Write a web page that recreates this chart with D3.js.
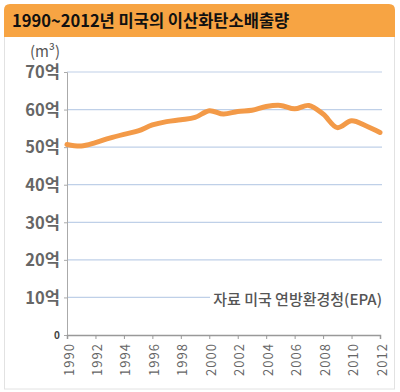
<!DOCTYPE html>
<html>
<head>
<meta charset="utf-8">
<script src="https://cdn.jsdelivr.net/npm/d3@7"></script>
<style>
  body { margin: 0; background: #fff; }
  svg { display: block; }
  text { font-family: 'Noto Sans CJK KR', 'Noto Sans', sans-serif; }
</style>
</head>
<body>
<div id="chart"></div>
<script>
// values in 억 m³
var years = d3.range(1990, 2013)
var emissions = [50.7, 50.3, 51.2, 52.4, 53.4, 54.3, 55.9, 56.8, 57.3, 57.9, 59.7, 58.8,
  59.5, 59.8, 60.8, 61.1, 60.2, 61.1, 58.8, 55.2, 57.0, 55.7, 53.9]
var yTicks = [0, 10, 20, 30, 40, 50, 60, 70]
var xTicks = d3.range(1990, 2013, 2)

var title = '1990~2012년 미국의 이산화탄소배출량'
var unitLabel = '(m³)'
var source = '자료 미국 연방환경청(EPA)'

var width = 400
var height = 392
var margin = {top: 72, right: 20, bottom: 57, left: 67}

var svg = d3
  .select('#chart')
  .append('svg')
  .attr('width', width)
  .attr('height', height)

// frame
svg.append('rect')
  .attr('x', 4.5).attr('y', 30).attr('width', 390).attr('height', 359)
  .attr('fill', '#fff').attr('stroke', '#e2e2e2')

svg.append('path')
  .attr('d', 'M4,37 V10 Q4,4 10,4 H389 Q395,4 395,10 V37 Z')
  .attr('fill', '#f7a443')

svg.append('text')
  .attr('x', 12).attr('y', 27)
  .attr('font-size', 16.5).attr('font-weight', 'bold')
  .attr('fill', '#111')
  .text(title)

var x = d3.scalePoint()
  .domain(years)
  .range([margin.left, width - margin.right])

var y = d3.scaleLinear()
  .domain([0, 70])
  .range([height - margin.bottom, margin.top])

// gridlines
svg.selectAll('.grid')
  .data(yTicks.filter(d => d > 0))
  .enter()
  .append('line')
  .attr('class', 'grid')
  .attr('x1', margin.left).attr('x2', width - margin.right + 2)
  .attr('y1', d => y(d)).attr('y2', d => y(d))
  .attr('stroke', '#bfd0e8').attr('stroke-width', 1.2)

// y axis
var yAxis = svg.append('g')
  .attr('transform', 'translate(' + margin.left + ',0)')
  .call(d3.axisLeft(y).tickValues(yTicks).tickSize(3).tickFormat(''))
yAxis.select('.domain').attr('stroke', '#aaa')
yAxis.selectAll('.tick line').attr('stroke', '#aaa')

svg.selectAll('.ylabel')
  .data(yTicks)
  .enter()
  .append('text')
  .attr('class', 'ylabel')
  .attr('x', 60)
  .attr('y', d => y(d))
  .attr('dy', d => d === 0 ? '0.35em' : '0.38em')
  .attr('text-anchor', 'end')
  .attr('font-size', d => d === 0 ? 10 : 16.5)
  .attr('font-weight', 'bold')
  .attr('fill', d => d === 0 ? '#444' : '#666')
  .text(d => d === 0 ? '0' : d + '억')

svg.append('text')
  .attr('x', 45).attr('y', 57)
  .attr('text-anchor', 'middle')
  .attr('font-family', 'DejaVu Serif, serif')
  .attr('font-size', 15)
  .attr('fill', '#555')
  .text(unitLabel)

// x axis
var xAxis = svg.append('g')
  .attr('transform', 'translate(0,' + y(0) + ')')
  .call(d3.axisBottom(x).tickValues(xTicks).tickSize(4).tickFormat(''))
xAxis.select('.domain').attr('stroke', '#999').attr('stroke-width', 1.5)
xAxis.selectAll('.tick line').attr('stroke', '#999')

svg.selectAll('.xlabel')
  .data(xTicks)
  .enter()
  .append('text')
  .attr('class', 'xlabel')
  .attr('transform', d => 'translate(' + (x(d) + 2) + ',' + (y(0) + 8) + ') rotate(-90)')
  .attr('dy', '0.35em')
  .attr('text-anchor', 'end')
  .attr('font-family', 'Liberation Sans, Arial, sans-serif')
  .attr('font-size', 13)
  .attr('letter-spacing', 1)
  .attr('fill', '#666')
  .text(d => d)

// source note with white box over the grid
var note = svg.append('g')
note.append('rect')
  .attr('x', 210).attr('y', 288).attr('width', 174).attr('height', 22)
  .attr('fill', '#fff')
note.append('text')
  .attr('x', 382).attr('y', 305)
  .attr('text-anchor', 'end')
  .attr('font-size', 15)
  .attr('font-weight', 500)
  .attr('fill', '#555')
  .text(source)

// line
var line = d3.line()
  .x((d, i) => x(years[i]))
  .y(d => y(d))
  .curve(d3.curveCatmullRom)

svg.append('path')
  .datum(emissions)
  .attr('d', line)
  .attr('fill', 'none')
  .attr('stroke', '#f39a48')
  .attr('stroke-width', 5)
  .attr('stroke-linecap', 'round')
  .attr('stroke-linejoin', 'round')
</script>
</body>
</html>
